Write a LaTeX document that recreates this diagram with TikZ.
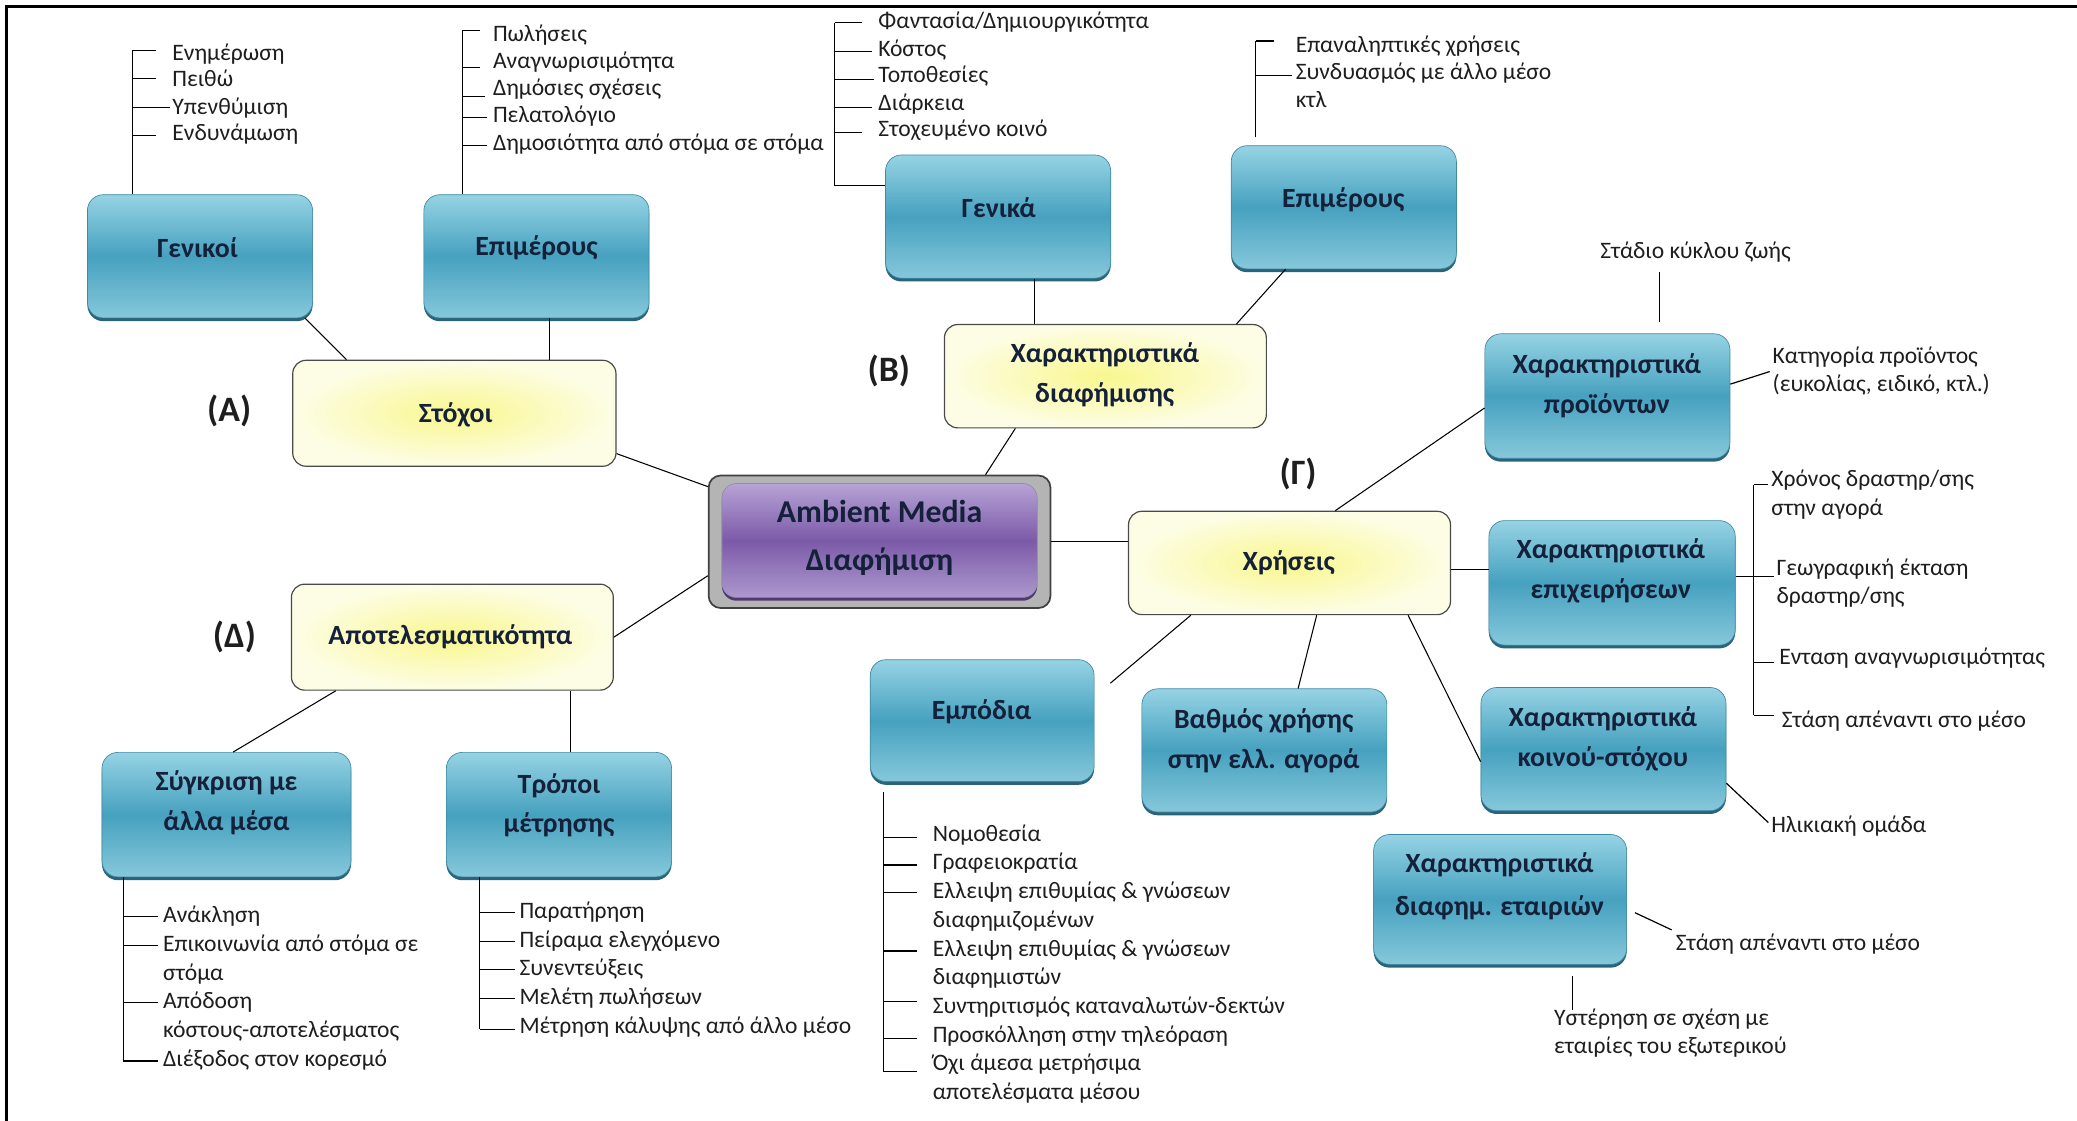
\documentclass[tikz,border=0pt]{standalone}
\usepackage{fontspec}
\setmainfont{Carlito}
\usetikzlibrary{shadows,calc}
\definecolor{bTop}{HTML}{96D3E4}
\definecolor{bMid}{HTML}{46A1BF}
\definecolor{bBot}{HTML}{86C8DB}
\definecolor{bEdge}{HTML}{3C8AA4}
\definecolor{bShadow}{HTML}{2B6479}
\definecolor{yIn}{HTML}{F9F78E}
\definecolor{yOut}{HTML}{FDFDE6}
\definecolor{yEdge}{HTML}{4A4A4A}
\definecolor{gBox}{HTML}{B4B4B4}
\definecolor{pTop}{HTML}{B7A3D6}
\definecolor{pMid}{HTML}{7B5AA8}
\definecolor{pBot}{HTML}{AD98CE}
\definecolor{pShadow}{HTML}{4E3A70}
\definecolor{lblC}{HTML}{15203A}
\definecolor{txtC}{HTML}{1E1E1E}
\begin{document}
\begin{tikzpicture}[x=1pt,y=-1pt,
  bluebox/.style={rounded corners=12pt, draw=bEdge, line width=0.5pt,
    top color=bTop, bottom color=bBot, middle color=bMid,
    minimum width=170pt, minimum height=93pt, inner sep=0pt,
    drop shadow={shadow xshift=0pt, shadow yshift=-2.5pt, fill=bShadow, opacity=1}},
  yelbox/.style={rounded corners=10pt, draw=yEdge, line width=0.9pt,
    inner color=yIn, outer color=yOut,
    minimum width=244pt, minimum height=80pt, inner sep=0pt},
  boxlbl/.style={font=\fontsize{21}{30}\selectfont\bfseries, text=lblC, align=center, inner sep=0pt},
  letter/.style={font=\fontsize{27}{30}\selectfont\bfseries, text=txtC, inner sep=0pt},
  itm/.style={font=\fontsize{17.8}{21}\selectfont, text=txtC, anchor=west, inner sep=0pt, text height=12pt, text depth=3.3pt},
  conn/.style={draw=black, line width=0.8pt},
  tree/.style={draw=black, line width=0.9pt}]
\useasboundingbox (0,0) rectangle (1568,846);
% frame
\coordinate (fBL) at (5,846);
\coordinate (fTL) at (5,5);
\coordinate (fTR) at (1568,5);
\draw[line width=2.2pt] (fBL) -- (fTL) -- (fTR);

% ---------- boxes ----------
\node[bluebox] (genikoi) at (151,193.5) {};
\node[bluebox] (epimA) at (405,193.5) {};
\node[bluebox] (genika) at (753.5,163.5) {};
\node[bluebox] (epimB) at (1014.5,156.5) {};
\node[bluebox, minimum width=185pt, minimum height=94pt] (proionta) at (1213.5,299) {};
\node[bluebox, minimum width=186pt, minimum height=94pt] (epixeir) at (1217,440) {};
\node[bluebox, minimum width=185pt, minimum height=93pt] (koino) at (1210.5,565.5) {};
\node[bluebox, minimum width=191pt, minimum height=98pt] (etairies) at (1132.5,679) {};
\node[bluebox, minimum width=185pt, minimum height=93pt] (vathmos) at (954.5,566.5) {};
\node[bluebox, minimum width=169pt, minimum height=92pt] (empodia) at (741.5,544) {};
\node[bluebox, minimum width=188pt, minimum height=94pt] (sygkrisi) at (171,615) {};
\node[bluebox, minimum width=170pt, minimum height=94pt] (tropoi) at (422,615) {};

\node[yelbox] (stoxoi) at (343,312) {};
\node[yelbox, minimum width=243pt, minimum height=78pt] (xardiaf) at (834.5,284) {};
\node[yelbox, minimum width=243pt, minimum height=78pt] (xriseis) at (973.5,425) {};
\node[yelbox, minimum width=243pt, minimum height=80pt] (apotel) at (341.5,481) {};

\node[rounded corners=9pt, fill=gBox, draw=black!75, line width=1.3pt,
      minimum width=258pt, minimum height=100pt] (center) at (664,409) {};
\node[rounded corners=11pt, top color=pTop, bottom color=pBot, middle color=pMid,
      draw=pShadow!60, line width=0.5pt, minimum width=238pt, minimum height=86pt,
      drop shadow={shadow xshift=0pt, shadow yshift=-2.5pt, fill=pShadow, opacity=1}] (centerIn) at (664,408) {};

% ---------- box labels ----------
\node[boxlbl] (genikoiT) at (149,187) {Γενικοί};
\node[boxlbl] (epimAT) at (405,187) {Επιμέρους};
\node[boxlbl] (genikaT) at (754,157) {Γενικά};
\node[boxlbl] (epimBT) at (1014,151) {Επιμέρους};
\node[boxlbl] (proiontaT) at (1213,291) {Χαρακτηριστικά\\προϊόντων};
\node[boxlbl] (epixeirT) at (1216,431) {Χαρακτηριστικά\\επιχειρήσεων};
\node[boxlbl] (koinoT) at (1210,558) {Χαρακτηριστικά\\κοινού-στόχου};
\node[boxlbl, font=\fontsize{21}{32}\selectfont\bfseries] (etairiesT) at (1132,669) {Χαρακτηριστικά\\διαφημ. εταιριών};
\node[boxlbl] (vathmosT) at (954,559) {Βαθμός χρήσης\\στην ελλ. αγορά};
\node[boxlbl] (empodiaT) at (741,537) {Εμπόδια};
\node[boxlbl] (sygkrisiT) at (171,606) {Σύγκριση με\\άλλα μέσα};
\node[boxlbl] (tropoiT) at (422,608) {Τρόποι\\μέτρησης};
\node[boxlbl] (stoxoiT) at (344,313) {Στόχοι};
\node[boxlbl] (xardiafT) at (834,283) {Χαρακτηριστικά\\διαφήμισης};
\node[boxlbl] (xriseisT) at (973,425) {Χρήσεις};
\node[boxlbl] (apotelT) at (340,481) {Αποτελεσματικότητα};
\node[boxlbl, font=\fontsize{24}{36}\selectfont\bfseries] (centerT) at (664,406) {Ambient Media\\Διαφήμιση};

% letters
\node[letter] (lA) at (173,310) {(Α)};
\node[letter] (lB) at (671,280) {(Β)};
\node[letter] (lG) at (980,358) {(Γ)};
\node[letter] (lD) at (177,481) {(Δ)};

% ---------- main connectors ----------
\draw[conn] ([xshift=-6pt]genikoi.south east) -- ([xshift=41pt]stoxoi.north west);
\draw[conn] ([xshift=10pt]epimA.south) -- ([xshift=10pt]epimA.south |- stoxoi.north);
\draw[conn] ([yshift=10pt]stoxoi.south east) -- ([yshift=-9pt]center.north west);
\draw[conn] (apotel.east) -- ([yshift=25pt]center.south west);
\draw[conn] ([xshift=34pt]apotel.south west) -- ([xshift=5pt]sygkrisi.north);
\draw[conn] ([xshift=89pt]apotel.south) -- ([xshift=89pt]apotel.south |- tropoi.north);
\draw[conn] ([xshift=-68pt]xardiaf.south) -- ([xshift=80pt]center.north);
\draw[conn] ([xshift=27.5pt]genika.south) -- ([xshift=27.5pt]genika.south |- xardiaf.north);
\draw[conn] ([xshift=-44pt]epimB.south) -- ([xshift=-23pt]xardiaf.north east);
\draw[conn] (center.east) -- (center.east -| xriseis.west);
\draw[conn] ([xshift=34.5pt]xriseis.north) -- ([yshift=-9pt]proionta.west);
\draw[conn] ([yshift=-5pt]xriseis.east) -- ([yshift=-5pt]xriseis.east -| epixeir.west);
\draw[conn] ([xshift=89.5pt]xriseis.south) -- ([yshift=-9.5pt]koino.west);
\draw[conn] ([xshift=20.5pt]xriseis.south) -- ([xshift=25.5pt]vathmos.north);
\draw[conn] ([xshift=-74.5pt]xriseis.south) -- ([xshift=12pt,yshift=-18pt]empodia.north east);

% ---------- tree: Γενικοί ----------
\node[itm] (gk1t) at (130,41) {Ενημέρωση};
\node[itm] (gk2t) at (130,61) {Πειθώ};
\node[itm] (gk3t) at (130,82) {Υπενθύμιση};
\node[itm] (gk4t) at (130,102) {Ενδυνάμωση};
\coordinate (gk1) at (100,38);
\coordinate (gk2) at (100,59);
\coordinate (gk3) at (100,81);
\coordinate (gk4) at (100,102);
\draw[tree] (gk1) -- (gk1 |- genikoi.north);
\draw[tree] (gk1) -- ([xshift=-12pt]gk1 -| gk1t.west);
\draw[tree] (gk2) -- ([xshift=-12pt]gk2 -| gk2t.west);
\draw[tree] (gk3) -- ([xshift=-2pt]gk3 -| gk3t.west);
\draw[tree] (gk4) -- ([xshift=-12pt]gk4 -| gk4t.west);

% ---------- tree: Επιμέρους (A) ----------
\node[itm] (ea1t) at (372,27) {Πωλήσεις};
\node[itm] (ea2t) at (372,47) {Αναγνωρισιμότητα};
\node[itm] (ea3t) at (372,68) {Δημόσιες σχέσεις};
\node[itm] (ea4t) at (372,88) {Πελατολόγιο};
\node[itm] (ea5t) at (372,109) {Δημοσιότητα από στόμα σε στόμα};
\coordinate (ea1) at (349,23);
\coordinate (ea2) at (349,51);
\coordinate (ea3) at (349,73);
\coordinate (ea4) at (349,89);
\coordinate (ea5) at (349,110);
\draw[tree] (ea1) -- (ea1 |- epimA.north);
\draw[tree] (ea1) -- ([xshift=-10pt]ea1 -| ea1t.west);
\draw[tree] (ea2) -- ([xshift=-10pt]ea2 -| ea2t.west);
\draw[tree] (ea3) -- ([xshift=-6pt]ea3 -| ea3t.west);
\draw[tree] (ea4) -- ([xshift=-4pt]ea4 -| ea4t.west);
\draw[tree] (ea5) -- ([xshift=-4pt]ea5 -| ea5t.west);

% ---------- tree: Γενικά ----------
\node[itm] (gn1t) at (663,17) {Φαντασία/Δημιουργικότητα};
\node[itm] (gn2t) at (663,38) {Κόστος};
\node[itm] (gn3t) at (663,58) {Τοποθεσίες};
\node[itm] (gn4t) at (663,79) {Διάρκεια};
\node[itm] (gn5t) at (663,99) {Στοχευμένο κοινό};
\coordinate (gn1) at (630,17);
\coordinate (gn2) at (630,39);
\coordinate (gn3) at (630,60);
\coordinate (gn4) at (630,81);
\coordinate (gn5) at (630,100);
\coordinate (gn6) at (630,140);
\draw[tree] (gn1) -- (gn6) -- (gn6 -| genika.west);
\draw[tree] (gn1) -- ([xshift=-12pt]gn1 -| gn1t.west);
\draw[tree] (gn2) -- ([xshift=-5pt]gn2 -| gn2t.west);
\draw[tree] (gn3) -- ([xshift=-3pt]gn3 -| gn3t.west);
\draw[tree] (gn4) -- ([xshift=-5pt]gn4 -| gn4t.west);
\draw[tree] (gn5) -- ([xshift=-12pt]gn5 -| gn5t.west);

% ---------- tree: Επιμέρους (B) ----------
\node[itm] (eb1t) at (978,35) {Επαναληπτικές χρήσεις};
\node[itm] (eb2t) at (978,56) {Συνδυασμός με άλλο μέσο};
\node[itm] (eb3t) at (978,77) {κτλ};
\coordinate (eb1) at (948,31);
\coordinate (eb2) at (948,57);
\draw[tree] (eb1) -- ([yshift=6pt]eb1 |- epimB.north);
\draw[tree] (eb1) -- ([xshift=-16pt]eb1 -| eb1t.west);
\draw[tree] (eb2) -- ([xshift=-3pt]eb2 -| eb2t.west);

% ---------- Χαρακτηριστικά προϊόντων ----------
\node[itm, anchor=center] (stadio) at (1280,191) {Στάδιο κύκλου ζωής};
\coordinate (stA) at (1253,205);
\draw[tree] (stA) -- ([yshift=9pt]stA |- proionta.north);
\node[itm] (kat1) at (1338,270) {Κατηγορία προϊόντος};
\node[itm] (kat2) at (1338,291) {(ευκολίας, ειδικό, κτλ.)};
\draw[tree] ([yshift=9pt]proionta.east) -- ([xshift=-2pt]$(kat1.west)!0.5!(kat2.west)$);

% ---------- Χαρακτηριστικά επιχειρήσεων ----------
\node[itm] (ep1t) at (1337,363) {Χρόνος δραστηρ/σης};
\node[itm] (ep1bt) at (1337,385) {στην αγορά};
\node[itm] (ep2t) at (1341,430) {Γεωγραφική έκταση};
\node[itm] (ep2bt) at (1341,451) {δραστηρ/σης};
\node[itm] (ep3t) at (1343,497) {Ενταση αναγνωρισιμότητας};
\node[itm] (ep4t) at (1345,545) {Στάση απέναντι στο μέσο};
\coordinate (ep1) at (1324,366);
\coordinate (ep2) at (1324,435);
\coordinate (ep3) at (1324,500);
\coordinate (ep4) at (1324,540);
\draw[tree] (ep1) -- (ep4);
\draw[tree] (ep1) -- ([xshift=-2pt]ep1 -| ep1t.west);
\draw[tree] (ep2 -| epixeir.east) -- ([xshift=-2pt]ep2 -| ep2t.west);
\draw[tree] (ep3) -- ([xshift=-4pt]ep3 -| ep3t.west);
\draw[tree] (ep4) -- ([xshift=-6pt]ep4 -| ep4t.west);

% ---------- κοινού-στόχου ----------
\node[itm] (hlik) at (1337,624) {Ηλικιακή ομάδα};
\draw[tree] ([yshift=21pt]koino.south east) -- ([xshift=-2pt,yshift=3pt]hlik.west);

% ---------- διαφημ. εταιριών ----------
\node[itm] (stas2) at (1265,713) {Στάση απέναντι στο μέσο};
\node[itm] (yst1) at (1173,770) {Υστέρηση σε σχέση με};
\node[itm] (yst2) at (1173,791) {εταιρίες του εξωτερικού};
\draw[tree] ([xshift=6pt,yshift=-10pt]etairies.east) -- ([xshift=-3pt,yshift=11pt]stas2.west);
\coordinate (ysA) at (1187,737);
\draw[tree] (ysA) -- (ysA |- yst1.north);

% ---------- Εμπόδια ----------
\node[itm] (em1t) at (704,631) {Νομοθεσία};
\node[itm] (em2t) at (704,652) {Γραφειοκρατία};
\node[itm] (em3t) at (704,674) {Ελλειψη επιθυμίας \& γνώσεων};
\node[itm] (em3bt) at (704,696) {διαφημιζομένων};
\node[itm] (em4t) at (704,718) {Ελλειψη επιθυμίας \& γνώσεων};
\node[itm] (em4bt) at (704,739) {διαφημιστών};
\node[itm] (em5t) at (704,761) {Συντηριτισμός καταναλωτών-δεκτών};
\node[itm] (em6t) at (704,783) {Προσκόλληση στην τηλεόραση};
\node[itm] (em7t) at (704,804) {Όχι άμεσα μετρήσιμα};
\node[itm] (em7bt) at (704,826) {αποτελέσματα μέσου};
\coordinate (em0) at (667,598);
\coordinate (em1) at (667,632);
\coordinate (em2) at (667,653);
\coordinate (em3) at (667,674);
\coordinate (em4) at (667,718);
\coordinate (em5) at (667,756);
\coordinate (em6) at (667,784);
\coordinate (em7) at (667,809);
\draw[tree] (em0) -- (em7);
\foreach \i in {1,...,7} {\draw[tree] (em\i) -- ([xshift=-12pt]em\i -| em\i t.west);}

% ---------- Σύγκριση ----------
\node[itm] (sg1t) at (123,692) {Ανάκληση};
\node[itm] (sg2t) at (123,714) {Επικοινωνία από στόμα σε};
\node[itm] (sg2bt) at (123,736) {στόμα};
\node[itm] (sg3t) at (123,757) {Απόδοση};
\node[itm] (sg3bt) at (123,779) {κόστους-αποτελέσματος};
\node[itm] (sg4t) at (123,801) {Διέξοδος στον κορεσμό};
\coordinate (sg1) at (93,692);
\coordinate (sg2) at (93,714);
\coordinate (sg3) at (93,757);
\coordinate (sg4) at (93,801);
\draw[tree] (sg4 |- sygkrisi.south) -- (sg4);
\foreach \i in {1,...,4} {\draw[tree] (sg\i) -- ([xshift=-4pt]sg\i -| sg\i t.west);}

% ---------- Τρόποι ----------
\node[itm] (tr1t) at (392,689) {Παρατήρηση};
\node[itm] (tr2t) at (392,711) {Πείραμα ελεγχόμενο};
\node[itm] (tr3t) at (392,732) {Συνεντεύξεις};
\node[itm] (tr4t) at (392,754) {Μελέτη πωλήσεων};
\node[itm] (tr5t) at (392,776) {Μέτρηση κάλυψης από άλλο μέσο};
\coordinate (tr1) at (362,689);
\coordinate (tr2) at (362,711);
\coordinate (tr3) at (362,732);
\coordinate (tr4) at (362,754);
\coordinate (tr5) at (362,777);
\draw[tree] (tr5 |- tropoi.south) -- (tr5);
\foreach \i in {1,...,5} {\draw[tree] (tr\i) -- ([xshift=-3pt]tr\i -| tr\i t.west);}
\end{tikzpicture}
\end{document}
